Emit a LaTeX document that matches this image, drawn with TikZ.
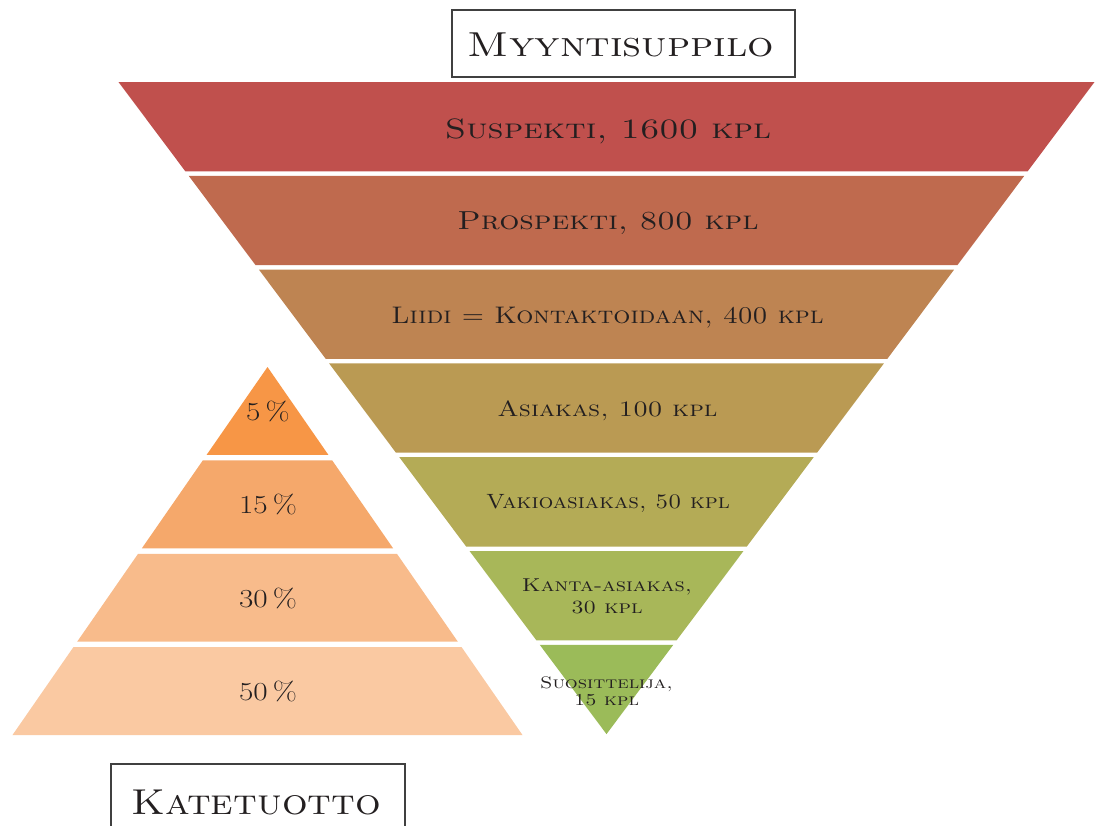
\documentclass[tikz,border=0pt]{standalone}
\usepackage{graphicx}
\definecolor{f1}{HTML}{C0504D}
\definecolor{f2}{HTML}{BF6A4E}
\definecolor{f3}{HTML}{BE8452}
\definecolor{f4}{HTML}{BA9A53}
\definecolor{f5}{HTML}{B4AB56}
\definecolor{f6}{HTML}{A8B759}
\definecolor{f7}{HTML}{9BBB59}
\definecolor{p1}{HTML}{F79646}
\definecolor{p2}{HTML}{F5A86B}
\definecolor{p3}{HTML}{F8BB8B}
\definecolor{p4}{HTML}{FAC9A2}
\definecolor{ink}{HTML}{231F20}
\newcommand{\widetxt}[2][1.2]{\scalebox{#1}[1]{#2}}
\tikzset{
  lbl/.style={text=ink, font=\scshape, inner sep=0pt, align=center}
}
\begin{document}
\begin{tikzpicture}[x=0.75pt,y=-0.75pt]
\useasboundingbox (0,0) rectangle (1095,825);
\clip (0,0) rectangle (1095,825);
% funnel bands
\foreach \i/\c in {0/f1,1/f2,2/f3,3/f4,4/f5,5/f6,6/f7}{
  \pgfmathsetmacro\ta{82+\i*93.8}
  \pgfmathsetmacro\tb{\ta+89.3}
  \pgfmathsetmacro\wa{0.74847*(734-\ta)}
  \pgfmathsetmacro\wb{max(0,0.74847*(734-\tb))}
  \fill[\c] (606.5-\wa,\ta) -- (606.5+\wa,\ta) -- (606.5+\wb,\tb) -- (606.5-\wb,\tb) -- cycle;
}
% pyramid bands
\foreach \i/\c in {0/p1,1/p2,2/p3,3/p4}{
  \pgfmathsetmacro\ta{367+\i*93.4}
  \pgfmathsetmacro\tb{\ta+87.9}
  \pgfmathsetmacro\wa{0.69293*(\ta-367)}
  \pgfmathsetmacro\wb{0.69293*(\tb-367)}
  \fill[\c] (267.5-\wa,\ta) -- (267.5+\wa,\ta) -- (267.5+\wb,\tb) -- (267.5-\wb,\tb) -- cycle;
}
% funnel labels
\node[lbl, font=\fontsize{21}{24}\selectfont\scshape] (s1) at (608,131) {\widetxt[1.25]{Suspekti, 1600 kpl}};
\node[lbl, font=\fontsize{19.5}{22}\selectfont\scshape] (s2) at (608,223) {\widetxt[1.22]{Prospekti, 800 kpl}};
\node[lbl, font=\fontsize{18}{22}\selectfont\scshape] (s3) at (607.5,318) {\widetxt[1.12]{Liidi = Kontaktoidaan, 400 kpl}};
\node[lbl, font=\fontsize{16.5}{20}\selectfont\scshape] (s4) at (607.5,411) {\widetxt{Asiakas, 100 kpl}};
\node[lbl, font=\fontsize{15.5}{20}\selectfont\scshape] (s5) at (608,503) {\widetxt[1.13]{Vakioasiakas, 50 kpl}};
\node[lbl, font=\fontsize{14}{16.5}\selectfont\scshape] (s6) at (607,596) {\widetxt{Kanta-asiakas,}\\\widetxt{30 kpl}};
\node[lbl, font=\fontsize{12.5}{13}\selectfont\scshape] (s7) at (606.5,691) {\widetxt[1.22]{Suosittelija,}\\\widetxt[1.22]{15 kpl}};
% pyramid labels
\node[lbl, font=\fontsize{19.5}{22}\selectfont] (q1) at (268,411) {\widetxt{5\,\%}};
\node[lbl, font=\fontsize{19.5}{22}\selectfont] (q2) at (268,504) {\widetxt{15\,\%}};
\node[lbl, font=\fontsize{19.5}{22}\selectfont] (q3) at (268,598) {\widetxt{30\,\%}};
\node[lbl, font=\fontsize{19.5}{22}\selectfont] (q4) at (268,691) {\widetxt{50\,\%}};
% title boxes
\draw[black!75, line width=0.9pt] (452,10) rectangle (795,77);
\node[lbl, font=\fontsize{26}{30}\selectfont\scshape] (t1) at (621,45) {\widetxt{Myyntisuppilo}};
\draw[black!75, line width=0.9pt] (111,764) rectangle (405,840);
\node[lbl, font=\fontsize{27}{31}\selectfont\scshape] (t2) at (256,802) {\widetxt[1.12]{Katetuotto}};
\end{tikzpicture}
\end{document}
